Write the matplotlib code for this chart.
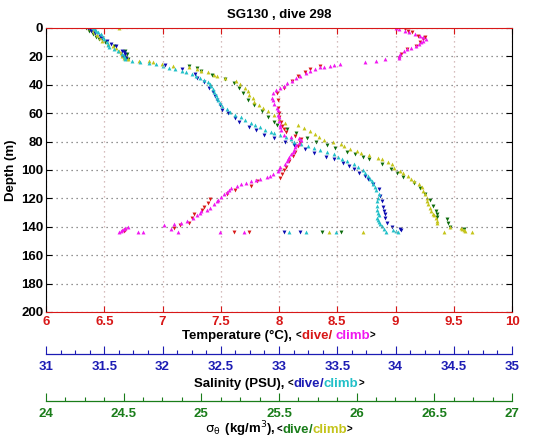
import matplotlib
matplotlib.use("Agg")
import matplotlib.pyplot as plt
from matplotlib.offsetbox import TextArea, HPacker, AnnotationBbox
from matplotlib.ticker import MultipleLocator

plt.rcParams['font.family'] = ['Liberation Sans', 'DejaVu Sans']
plt.rcParams['mathtext.fontset'] = 'dejavusans'

title = "SG130 , dive 298"

# ---------------- data ----------------
# Temperature, dive (red) / climb (magenta)
temp_dive_depth = [0.7, 2, 3, 5.4, 6.6, 8, 10, 12.5, 15, 18,
                   21, 26.6, 29, 31, 34, 37, 42, 46, 51, 56,
                   60, 63, 66, 69, 71, 73, 76, 78, 80, 83,
                   87, 90, 94, 98, 100, 103, 105.6, 108, 111, 114,
                   117, 120.7, 123, 126, 128, 131, 134, 137, 139, 140.5,
                   142, 143, 144, 144]
temp_dive = [9.08, 9.11, 9.14, 9.19, 9.25, 9.24, 9.21, 9.18, 9.10, 9.05,
             9.03, 8.35, 8.27, 8.22, 8.16, 8.11, 8.04, 7.98, 7.99, 7.99,
             8.00, 8.00, 8.02, 8.03, 8.04, 8.06, 8.14, 8.19, 8.18, 8.16,
             8.14, 8.12, 8.09, 8.06, 8.04, 8.03, 8.01, 7.81, 7.76, 7.62,
             7.55, 7.41, 7.39, 7.36, 7.34, 7.27, 7.25, 7.23, 7.15, 7.10,
             6.68, 6.67, 7.61, 7.74]
temp_climb_depth = [0, 1, 2, 3, 4.2, 5.5, 6.6, 7.8, 9, 10,
                    11, 12.5, 14, 15, 16.5, 18, 19.5, 21, 22, 23,
                    24, 25.4, 26, 26.6, 27.2, 27.8, 29, 30, 31.5, 33.6,
                    35, 37, 39, 40.7, 42, 44, 46, 49, 51, 53.6,
                    56, 58, 61, 63, 65.4, 68, 70, 72, 75, 76.5,
                    77.7, 79, 81, 82.3, 84, 86, 87.5, 89, 91, 92.5,
                    94, 96, 98, 99.5, 101, 102.5, 104, 105, 106, 107,
                    108, 109, 110, 111, 112.5, 114, 115.5, 117, 119, 121,
                    122, 124, 126.5, 128, 129, 130.5, 132, 134, 136, 137,
                    138, 139, 140, 141, 141.6, 142.5, 143, 144, 144, 144,
                    144, 144, 144, 141.6]
temp_climb = [9.00, 9.03, 9.08, 9.12, 9.17, 9.21, 9.24, 9.26, 9.24, 9.22,
              9.20, 9.18, 9.13, 9.10, 9.07, 9.04, 9.03, 9.03, 8.91, 8.83,
              8.74, 8.52, 8.47, 8.44, 8.39, 8.35, 8.31, 8.27, 8.23, 8.18,
              8.15, 8.11, 8.07, 8.04, 8.01, 7.97, 7.95, 7.94, 7.95, 7.96,
              7.98, 7.99, 7.99, 8.00, 8.00, 8.01, 8.01, 8.02, 8.04, 8.10,
              8.17, 8.19, 8.17, 8.15, 8.14, 8.13, 8.12, 8.10, 8.09, 8.08,
              8.07, 8.05, 8.01, 8.00, 7.99, 7.95, 7.92, 7.90, 7.84, 7.80,
              7.76, 7.72, 7.67, 7.64, 7.59, 7.57, 7.55, 7.53, 7.50, 7.48,
              7.47, 7.44, 7.41, 7.38, 7.33, 7.32, 7.30, 7.26, 7.21, 7.16,
              7.10, 7.01, 6.70, 6.68, 6.67, 6.65, 6.64, 6.63, 6.79, 6.83,
              7.13, 7.49, 7.70, 7.07]

# Salinity, dive (blue) / climb (cyan)
sal_dive_depth = [0, 1, 2, 3.5, 5.4, 7, 9, 11, 13, 16,
                  17, 18.4, 20, 21, 26, 29, 32.5, 35, 38, 42.4,
                  45, 48, 51, 54, 57.6, 60, 63.5, 66, 69.4, 72,
                  75, 77.7, 80, 82.3, 85, 88, 90.5, 92.6, 95, 97.5,
                  99.5, 102, 104, 106, 110, 113.5, 118, 122, 126, 129,
                  131, 133.5, 137, 140, 141.6, 142.5, 144, 144]
sal_dive = [31.36, 31.38, 31.39, 31.42, 31.46, 31.48, 31.52, 31.56, 31.60, 31.65,
            31.67, 31.68, 31.66, 31.69, 32.02, 32.17, 32.28, 32.30, 32.36, 32.40,
            32.43, 32.45, 32.47, 32.49, 32.51, 32.56, 32.62, 32.66, 32.74, 32.80,
            32.87, 32.96, 33.05, 33.13, 33.22, 33.30, 33.40, 33.47, 33.55, 33.60,
            33.64, 33.69, 33.74, 33.76, 33.81, 33.86, 33.87, 33.88, 33.89, 33.90,
            33.91, 33.91, 33.93, 33.97, 34.04, 34.05, 33.04, 33.18]
sal_climb_depth = [0, 1, 1.9, 3, 4.5, 6.6, 8, 10, 12, 13.6,
                   15, 16.5, 18.4, 20, 21, 22, 23, 24, 24.7, 25.5,
                   26.6, 28, 29, 30, 31, 32.5, 34, 35, 36.5, 38,
                   39.5, 41, 43, 45, 47, 49, 51, 53, 55, 57,
                   59, 61, 63, 65, 67, 68.5, 70, 71.5, 73, 74,
                   75.5, 77, 78.5, 80, 81.5, 83, 84.6, 86, 87.5, 89,
                   90.5, 92, 94, 96, 98, 100, 102, 104, 106, 108,
                   110, 112, 114, 117, 119.5, 122, 125, 128, 130, 132,
                   133.5, 135, 136.5, 138, 139.5, 141.6, 142.5, 143, 143.5, 144,
                   144, 144, 144]
sal_climb = [31.40, 31.42, 31.43, 31.45, 31.47, 31.49, 31.50, 31.52, 31.53, 31.54,
             31.58, 31.62, 31.65, 31.67, 31.68, 31.68, 31.74, 31.81, 31.88, 31.94,
             32.00, 32.06, 32.11, 32.17, 32.20, 32.25, 32.29, 32.32, 32.36, 32.39,
             32.41, 32.42, 32.43, 32.44, 32.46, 32.47, 32.48, 32.49, 32.51, 32.55,
             32.58, 32.62, 32.67, 32.71, 32.76, 32.79, 32.84, 32.88, 32.93, 32.96,
             33.01, 33.06, 33.10, 33.13, 33.19, 33.25, 33.30, 33.35, 33.41, 33.47,
             33.51, 33.54, 33.58, 33.64, 33.68, 33.72, 33.74, 33.76, 33.78, 33.80,
             33.81, 33.82, 33.83, 33.86, 33.85, 33.84, 33.84, 33.84, 33.85, 33.86,
             33.84, 33.85, 33.86, 33.87, 33.88, 33.90, 33.98, 34.00, 34.02, 33.09,
             33.23, 33.49, 33.92]

# Potential density sigma-theta, dive (green) / climb (yellow)
sig_dive_depth = [0, 2, 4, 6, 7.8, 10, 13, 16, 18, 20.7,
                  22, 26.6, 28, 30, 33, 36, 39, 42, 46, 50.6,
                  54, 58.8, 63, 66, 68, 71, 74, 77.7, 80, 82.3,
                  84.6, 87, 89, 90.5, 92.6, 96, 99.5, 102, 105, 109,
                  113, 117, 121, 125, 129, 131, 133, 134.6, 137, 140,
                  141.6, 144, 144]
sig_dive = [24.26, 24.28, 24.30, 24.32, 24.34, 24.38, 24.44, 24.51, 24.52, 24.51,
            24.53, 24.92, 24.97, 25.00, 25.07, 25.15, 25.21, 25.24, 25.27, 25.30,
            25.34, 25.39, 25.43, 25.47, 25.49, 25.55, 25.61, 25.68, 25.74, 25.81,
            25.86, 25.94, 25.99, 26.04, 26.08, 26.16, 26.22, 26.26, 26.30, 26.37,
            26.41, 26.44, 26.47, 26.49, 26.51, 26.52, 26.52, 26.58, 26.59, 26.60,
            26.69, 25.78, 25.90]
sig_climb_depth = [0, 0, 1.5, 3, 5, 7, 9, 11, 12.5, 14,
                   16, 17.5, 19.5, 21, 22, 23, 23.5, 24, 25, 26.6,
                   27.8, 29, 30, 31.3, 33, 34, 35.5, 37.6, 39.5, 42,
                   44.5, 47, 49.5, 51.8, 54, 56.5, 58.8, 61.6, 64, 67,
                   68.5, 70.5, 72.5, 74.5, 76.5, 78.6, 80.5, 82, 83.4, 85,
                   86.5, 88, 89.5, 91.5, 92.6, 94.5, 96, 98.4, 100.7, 102,
                   104, 106, 107.7, 110, 112, 114.7, 117, 119.5, 122, 124,
                   126.5, 129, 131, 132, 134, 136, 137, 140, 140.5, 141.5,
                   142.5, 143, 143.5, 144, 144, 143.5]
sig_climb = [24.28, 24.47, 24.30, 24.31, 24.33, 24.35, 24.36, 24.40, 24.43, 24.45,
             24.47, 24.48, 24.49, 24.50, 24.53, 24.60, 24.66, 24.69, 24.75, 24.82,
             24.92, 24.97, 25.00, 25.04, 25.08, 25.10, 25.15, 25.22, 25.25, 25.28,
             25.30, 25.31, 25.33, 25.34, 25.37, 25.40, 25.43, 25.47, 25.50, 25.54,
             25.62, 25.66, 25.70, 25.73, 25.76, 25.79, 25.85, 25.90, 25.92, 25.96,
             26.00, 26.03, 26.08, 26.14, 26.16, 26.20, 26.23, 26.24, 26.28, 26.30,
             26.33, 26.35, 26.37, 26.40, 26.42, 26.43, 26.44, 26.45, 26.45, 26.46,
             26.47, 26.48, 26.49, 26.50, 26.51, 26.52, 26.52, 26.60, 26.67, 26.68,
             26.69, 26.70, 26.56, 25.82, 26.04, 26.74]

temp_ticks = [6, 6.5, 7, 7.5, 8, 8.5, 9, 9.5, 10]
sal_ticks = [31, 31.5, 32, 32.5, 33, 33.5, 34, 34.5, 35]
sig_ticks = [24, 24.5, 25, 25.5, 26, 26.5, 27]
depth_ticks = [0, 20, 40, 60, 80, 100, 120, 140, 160, 180, 200]

# ---------------- style ----------------
C_RED = '#d81818'
C_MAG = '#f018f0'
C_BLUE = '#1c1cb4'
C_CYAN = '#22c0c8'
C_GREEN = '#1a7d1a'
C_YEL = '#c4c41a'
C_DBLUE = '#0a0ab0'
C_DGREEN = '#0a6a0a'

W, H = 535, 442
fig = plt.figure(figsize=(W / 100, H / 100), dpi=100)

L = 46 / W
R = 512 / W
ax_w = R - L
top = 1 - 28 / H
bot = 1 - 312 / H

ax = fig.add_axes([L, bot, ax_w, top - bot])
ax_sal = ax.twiny()
ax_sig = ax.twiny()

for a in (ax_sal, ax_sig):
    a.set_xticks([])
    for s in a.spines.values():
        s.set_visible(False)
    a.patch.set_visible(False)

ms = 2.8
ax_sig.plot(sig_dive, sig_dive_depth, 'v', color=C_DGREEN, ms=ms, mew=0)
ax_sig.plot(sig_climb, sig_climb_depth, '^', color=C_YEL, ms=ms, mew=0)
ax_sal.plot(sal_dive, sal_dive_depth, 'v', color=C_DBLUE, ms=ms, mew=0)
ax_sal.plot(sal_climb, sal_climb_depth, '^', color=C_CYAN, ms=ms, mew=0)
ax.plot(temp_dive, temp_dive_depth, 'v', color=C_RED, ms=ms, mew=0)
ax.plot(temp_climb, temp_climb_depth, '^', color=C_MAG, ms=ms, mew=0)

ax.set_zorder(5)
ax.patch.set_visible(False)
ax_sal.set_zorder(3)
ax_sig.set_zorder(2)

ax.set_xlim(6, 10)
ax_sal.set_xlim(31, 35)
ax_sig.set_xlim(24, 27)
for a in (ax, ax_sal, ax_sig):
    a.set_ylim(200, 0)

ax.set_xticks(temp_ticks)
ax.set_xticklabels([f"{t:g}" for t in temp_ticks])
ax.set_yticks(depth_ticks)
ax.tick_params(axis='x', direction='in', length=4, width=0.8, colors=C_RED,
               top=True, labelsize=9.5, pad=3)
ax.tick_params(axis='y', direction='in', length=4, width=0.8, colors='black',
               right=True, labelsize=9.5, pad=2)
for lab in ax.get_xticklabels() + ax.get_yticklabels():
    lab.set_fontweight('bold')
ax.spines['bottom'].set_color(C_RED)
ax.spines['top'].set_color(C_RED)
ax.spines['left'].set_color('black')
ax.spines['right'].set_color('black')
for s in ax.spines.values():
    s.set_linewidth(0.8)
ax.xaxis.grid(True, color='#c9a8a8', linestyle=(0, (1, 3)), linewidth=0.9)
ax.yaxis.grid(True, color='#707070', linestyle=(0, (1, 3)), linewidth=0.9)

ax.set_ylabel("Depth (m)", fontsize=9.5, fontweight='bold', labelpad=3)
ax.set_title(title, fontsize=9.5, fontweight='bold', pad=7)


def scale_axis(ypix, lim, ticks, color):
    sa = fig.add_axes([L, 1 - ypix / H, ax_w, 0.02])
    sa.set_xlim(*lim)
    sa.set_yticks([])
    for k in ('top', 'left', 'right'):
        sa.spines[k].set_visible(False)
    sa.spines['bottom'].set_color(color)
    sa.spines['bottom'].set_linewidth(0.9)
    sa.patch.set_visible(False)
    sa.set_xticks(ticks)
    sa.set_xticklabels([f"{t:g}" for t in ticks])
    sa.xaxis.set_minor_locator(MultipleLocator(0.125))
    sa.tick_params(axis='x', which='major', direction='in', length=6, width=0.8,
                   colors=color, labelsize=9.5, pad=5)
    sa.tick_params(axis='x', which='minor', direction='in', length=3, width=0.8,
                   colors=color)
    for lab in sa.get_xticklabels():
        lab.set_fontweight('bold')
    return sa


scale_axis(354, (31, 35), sal_ticks, C_BLUE)
scale_axis(401, (24, 27), sig_ticks, C_GREEN)


def colored_label(parts, ypix):
    children = []
    for txt, col, size in parts:
        children.append(TextArea(txt, textprops=dict(color=col, fontsize=size,
                                                       fontweight='bold')))
    box = HPacker(children=children, align='baseline', pad=0, sep=0)
    ab = AnnotationBbox(box, ((L + R) / 2, 1 - ypix / H), xycoords='figure fraction',
                        frameon=False, box_alignment=(0.5, 0.5), pad=0)
    fig.add_artist(ab)


colored_label([("Temperature (°C), ", 'black', 9.5), ("<", 'black', 7),
               ("dive/ ", C_RED, 9.5), ("climb", C_MAG, 9.5), (">", 'black', 7)], 336)
colored_label([("Salinity (PSU), ", 'black', 9.5), ("<", 'black', 7),
               ("dive", C_BLUE, 9.5), ("/", C_BLUE, 9.5), ("climb", C_CYAN, 9.5),
               (">", 'black', 7)], 384)
colored_label([(r"$\mathrm{\sigma}_{\mathrm{\theta}}$", 'black', 9.5),
               (" (kg/m$^3$), ", 'black', 9.5),
               ("<", 'black', 7), ("dive", C_GREEN, 9.5), ("/", C_GREEN, 9.5),
               ("climb", C_YEL, 9.5), (">", 'black', 7)], 429)

fig.savefig("out.png", dpi=100)
